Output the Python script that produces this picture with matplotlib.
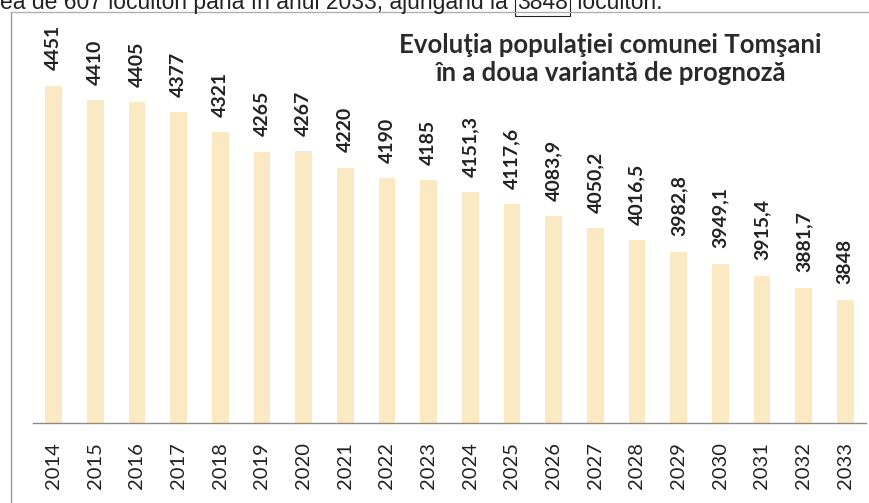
import matplotlib.pyplot as plt
from matplotlib.lines import Line2D

plt.rcParams['font.family'] = ['Lato', 'DejaVu Sans']

# date
ani = ['2014', '2015', '2016', '2017', '2018', '2019', '2020', '2021', '2022', '2023',
       '2024', '2025', '2026', '2027', '2028', '2029', '2030', '2031', '2032', '2033']
populatie = [4451, 4410, 4405, 4377, 4321, 4265, 4267, 4220, 4190, 4185,
             4151.3, 4117.6, 4083.9, 4050.2, 4016.5, 3982.8, 3949.1, 3915.4, 3881.7, 3848]
etichete = ['4451', '4410', '4405', '4377', '4321', '4265', '4267', '4220', '4190', '4185',
            '4151,3', '4117,6', '4083,9', '4050,2', '4016,5', '3982,8', '3949,1', '3915,4', '3881,7', '3848']

fig = plt.figure(figsize=(8.7, 5.03), dpi=100)
ax = fig.add_axes([0.0376, 0.159, 0.958, 0.811])

x = list(range(len(ani)))
ax.bar(x, populatie, width=0.4, color='#fbe9c4', bottom=0)
ax.set_ylim(3500, 4650)
ax.set_xlim(-0.5, 19.5)

for i in x:
    ax.annotate(etichete[i], xy=(i, populatie[i]), xytext=(0, 11), textcoords='offset points',
                rotation=90, ha='center', va='bottom', fontsize=14, fontweight='bold', color='#222222')

ax.set_xticks(x)
ax.set_xticklabels(ani, rotation=90, fontsize=14.5, color='#222222')
ax.tick_params(axis='x', length=0, pad=14)
ax.set_yticks([])
for s in ['top', 'right', 'left']:
    ax.spines[s].set_visible(False)
ax.spines['bottom'].set_color('#8a8a8a')
ax.spines['bottom'].set_linewidth(1.0)

ax.text(0.693, 0.955, 'Evoluţia populaţiei comunei Tomşani\nîn a doua variantă de prognoză',
        transform=ax.transAxes, ha='center', va='top', fontsize=18.5, fontweight='bold',
        color='#2a2a2a', linespacing=1.2)

# chenarul graficului scanat
fig.add_artist(Line2D([11/870, 11/870], [0, 1 - 12/503], color='#9a9a9a', lw=1, transform=fig.transFigure))
fig.add_artist(Line2D([11/870, 1], [1 - 12/503, 1 - 12/503], color='#b0b0b0', lw=1, transform=fig.transFigure))

# randul de text taiat de deasupra
t1 = fig.text(0.0, 1 - 9/503, 'ea de 607 locuitori până în anul 2033, ajungând la ',
              family='Liberation Sans', fontsize=16.5, va='baseline', ha='left', color='#222222')
ann = ax.annotate('3848', xy=(1, 0), xycoords=t1, xytext=(2, 0), textcoords='offset points',
                  family='Liberation Sans', fontsize=16.5, va='bottom', ha='left', color='#222222',
                  bbox=dict(boxstyle='square,pad=0.1', fc='none', ec='#222222', lw=0.8),
                  annotation_clip=False)
ax.annotate(' locuitori.', xy=(1, 0), xycoords=ann, xytext=(2, 0), textcoords='offset points',
            family='Liberation Sans', fontsize=16.5, va='bottom', ha='left', color='#222222',
            annotation_clip=False)

fig.savefig('out.png', dpi=100)
